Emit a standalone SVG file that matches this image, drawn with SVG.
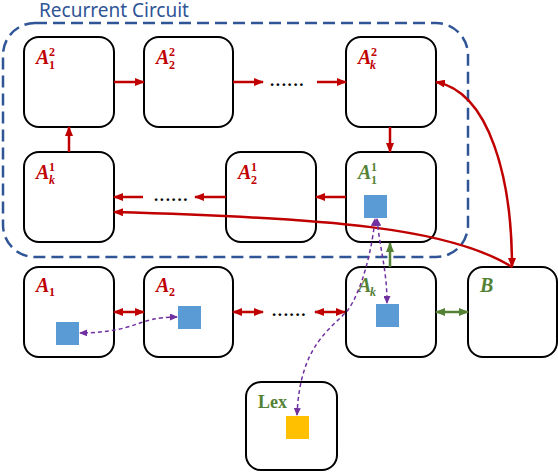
<svg xmlns="http://www.w3.org/2000/svg" width="558" height="472" viewBox="0 0 558 472">
<style>
.box{fill:#fff;stroke:#000;stroke-width:2}
.lbl{font-family:"Liberation Serif",serif;font-weight:bold;font-style:italic;font-size:20px}
.sm{font-family:"Liberation Serif",serif;font-weight:bold;font-size:12px}
.smi{font-family:"Liberation Serif",serif;font-weight:bold;font-style:italic;font-size:12px}
.red{fill:#C00000}
.grn{fill:#548235}
.dots{font-family:"Liberation Serif",serif;font-weight:bold;font-size:17px;letter-spacing:1.6px;fill:#000}
.ra{stroke:#C00000;stroke-width:2.5;fill:none}
.ga{stroke:#548235;stroke-width:2.5;fill:none}
.pa{stroke:#7030A0;stroke-width:1.5;fill:none;stroke-dasharray:4 3}
.blue{fill:#5B9BD5}
</style>
<defs>
<marker id="mr" markerWidth="10" markerHeight="8" refX="9" refY="4" orient="auto-start-reverse" markerUnits="userSpaceOnUse"><path d="M0,0 L10,4 L0,8 z" fill="#C00000"/></marker>
<marker id="mg" markerWidth="10" markerHeight="8" refX="9" refY="4" orient="auto-start-reverse" markerUnits="userSpaceOnUse"><path d="M0,0 L10,4 L0,8 z" fill="#548235"/></marker>
<marker id="mp" markerWidth="8" markerHeight="7" refX="7" refY="3.5" orient="auto-start-reverse" markerUnits="userSpaceOnUse"><path d="M0,0 L8,3.5 L0,7 z" fill="#7030A0"/></marker>
</defs>

<g id="region">
<rect x="3" y="23" width="465" height="234" rx="32" fill="none" stroke="#2F5597" stroke-width="2.5" stroke-dasharray="12 6"/>
<text x="39" y="17" font-family="Noto Sans, sans-serif" font-size="19" fill="#2F5597">Recurrent Circuit</text>
</g>

<g id="A12">
<rect class="box" x="24" y="37" width="90" height="90" rx="15"/>
<text class="lbl red" x="36" y="64">A</text><text class="sm red" x="49" y="56">2</text><text class="sm red" x="49" y="69">1</text>
</g>
<g id="A22">
<rect class="box" x="144" y="37" width="89" height="90" rx="15"/>
<text class="lbl red" x="156" y="64">A</text><text class="sm red" x="169" y="56">2</text><text class="sm red" x="169" y="69">2</text>
</g>
<g id="Ak2">
<rect class="box" x="346" y="37" width="90" height="90" rx="15"/>
<text class="lbl red" x="358" y="64">A</text><text class="sm red" x="371" y="56">2</text><text class="smi red" x="370" y="69">k</text>
</g>

<g id="Ak1">
<rect class="box" x="24" y="152" width="90" height="90" rx="15"/>
<text class="lbl red" x="36" y="179">A</text><text class="sm red" x="49" y="171">1</text><text class="smi red" x="49" y="184">k</text>
</g>
<g id="A21">
<rect class="box" x="226" y="152" width="90" height="90" rx="15"/>
<text class="lbl red" x="238" y="179">A</text><text class="sm red" x="251" y="171">1</text><text class="sm red" x="251" y="184">2</text>
</g>
<g id="A11">
<rect class="box" x="346" y="152" width="90" height="90" rx="15"/>
<text class="lbl grn" x="358" y="179">A</text><text class="sm grn" x="371" y="171">1</text><text class="sm grn" x="371" y="184">1</text>
<rect class="blue" x="364" y="195" width="23" height="23"/>
</g>

<g id="A1">
<rect class="box" x="24" y="267" width="90" height="90" rx="15"/>
<text class="lbl red" x="36" y="292">A</text><text class="sm red" x="49" y="296">1</text>
<rect class="blue" x="56" y="322" width="23" height="23"/>
</g>
<g id="A2">
<rect class="box" x="144" y="267" width="89" height="90" rx="15"/>
<text class="lbl red" x="156" y="292">A</text><text class="sm red" x="169" y="296">2</text>
<rect class="blue" x="178" y="306" width="23" height="23"/>
</g>
<g id="Ak">
<rect class="box" x="346" y="267" width="90" height="90" rx="15"/>
<text class="lbl grn" x="358" y="292">A</text><text class="smi grn" x="370" y="296">k</text>
<rect class="blue" x="376" y="304" width="23" height="23"/>
</g>
<g id="B">
<rect class="box" x="468" y="267" width="89" height="90" rx="15"/>
<text class="lbl grn" x="480" y="292">B</text>
</g>
<g id="Lex">
<rect class="box" x="246" y="382" width="91" height="88" rx="15"/>
<text x="258" y="408" font-family="Liberation Serif, serif" font-weight="bold" font-size="18" fill="#548235">Lex</text>
<rect x="286" y="416" width="23" height="23" fill="#FFC000"/>
</g>

<g id="dots">
<text class="dots" x="270" y="86">......</text>
<text class="dots" x="154" y="201">......</text>
<text class="dots" x="272" y="316">......</text>
</g>

<g id="connectors">
<line class="ra" x1="114" y1="82" x2="144" y2="82" marker-end="url(#mr)"/>
<line class="ra" x1="233" y1="82" x2="263" y2="82" marker-end="url(#mr)"/>
<line class="ra" x1="317" y1="82" x2="346" y2="82" marker-end="url(#mr)"/>
<line class="ra" x1="390" y1="127" x2="390" y2="152" marker-end="url(#mr)"/>
<line class="ra" x1="346" y1="197" x2="316" y2="197" marker-end="url(#mr)"/>
<line class="ra" x1="226" y1="197" x2="195" y2="197" marker-end="url(#mr)"/>
<line class="ra" x1="143" y1="197" x2="114" y2="197" marker-end="url(#mr)"/>
<line class="ra" x1="69" y1="152" x2="69" y2="127" marker-end="url(#mr)"/>
<path class="ra" d="M436 82 C490 92 512 180 512 267" marker-start="url(#mr)" marker-end="url(#mr)"/>
<path class="ra" d="M114 212 C330 218 450 228 512 267" marker-start="url(#mr)"/>
<line class="ra" x1="114" y1="312" x2="144" y2="312" marker-start="url(#mr)" marker-end="url(#mr)"/>
<line class="ra" x1="233" y1="312" x2="263" y2="312" marker-start="url(#mr)" marker-end="url(#mr)"/>
<line class="ra" x1="315" y1="312" x2="345" y2="312" marker-start="url(#mr)" marker-end="url(#mr)"/>
<line class="ga" x1="436" y1="312" x2="468" y2="312" marker-start="url(#mg)" marker-end="url(#mg)"/>
<line class="ga" x1="390" y1="267" x2="390" y2="243" stroke-width="3" marker-end="url(#mg)"/>
<path class="pa" d="M177 317 C135 317 140 332 80 333" marker-start="url(#mp)" marker-end="url(#mp)"/>
<path class="pa" d="M297 415 C300 345 330 330 348 310 C362 290 372 250 375 219" marker-start="url(#mp)" marker-end="url(#mp)"/>
<path class="pa" d="M377 219 C380 250 387 270 387 303" marker-start="url(#mp)" marker-end="url(#mp)"/>
</g>
</svg>
